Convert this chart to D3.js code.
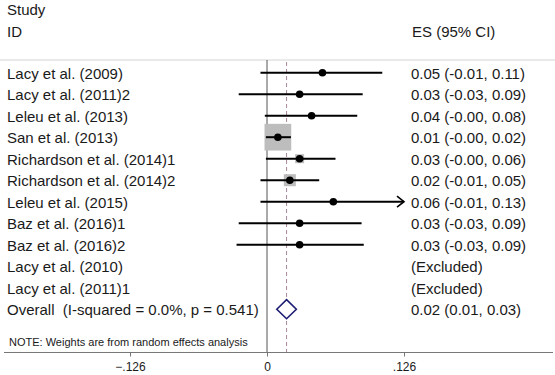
<!DOCTYPE html>
<html>
<head>
<meta charset="utf-8">
<script src="https://cdn.jsdelivr.net/npm/d3@7"></script>
<style>
  html, body { margin: 0; padding: 0; background: #fff; }
  svg { display: block; font-family: "Liberation Sans", Arial, sans-serif; }
  text { white-space: pre; }
</style>
</head>
<body>
<svg id="chart" width="555" height="375"></svg>
<script>
// ---- data ----
const studies = [
  "Lacy et al. (2009)",
  "Lacy et al. (2011)2",
  "Leleu et al. (2013)",
  "San et al. (2013)",
  "Richardson et al. (2014)1",
  "Richardson et al. (2014)2",
  "Leleu et al. (2015)",
  "Baz et al. (2016)1",
  "Baz et al. (2016)2",
  "Lacy et al. (2010)",
  "Lacy et al. (2011)1"
];
const es     = [0.051, 0.030, 0.041, 0.010, 0.030, 0.021, 0.061, 0.030, 0.030, null, null];
const ciLow  = [-0.006, -0.026, -0.002, -0.001, -0.001, -0.006, -0.006, -0.026, -0.028, null, null];
const ciHigh = [0.106, 0.088, 0.083, 0.022, 0.063, 0.048, 0.130, 0.087, 0.089, null, null];
const weights = [1.3, 1.2, 1.6, 70.6, 8.0, 14.3, 0.8, 1.1, 1.1, null, null];
const esLabels = [
  "0.05 (-0.01, 0.11)",
  "0.03 (-0.03, 0.09)",
  "0.04 (-0.00, 0.08)",
  "0.01 (-0.00, 0.02)",
  "0.03 (-0.00, 0.06)",
  "0.02 (-0.01, 0.05)",
  "0.06 (-0.01, 0.13)",
  "0.03 (-0.03, 0.09)",
  "0.03 (-0.03, 0.09)",
  "(Excluded)",
  "(Excluded)"
];
const overallLabel = "Overall  (I-squared = 0.0%, p = 0.541)";
const overall = { es: 0.018, lo: 0.009, hi: 0.027, text: "0.02 (0.01, 0.03)" };
const tickValues = [-0.126, 0, 0.126];
const noteText = "NOTE: Weights are from random effects analysis";

// ---- layout ----
const svg = d3.select("#chart");
const W = 555, H = 375;
const x = d3.scaleLinear().domain([-0.126, 0.126]).range([130, 404]);
const nRows = studies.length + 1;
const y = d3.scaleLinear().domain([0, nRows - 1]).range([72.7, 309.2]);
const axisY = 352.5;
const topLine = 60;
const textColor = "#1a1a1a";
const fs = 15;

// header
svg.append("text").attr("x", 7).attr("y", 15).attr("font-size", fs).attr("fill", textColor).text("Study");
svg.append("text").attr("x", 7).attr("y", 36.5).attr("font-size", fs).attr("fill", textColor).text("ID");
svg.append("text").attr("x", 412).attr("y", 36.5).attr("font-size", fs).attr("fill", textColor).text("ES (95% CI)");
svg.append("line").attr("x1", 0).attr("x2", W).attr("y1", topLine).attr("y2", topLine)
  .attr("stroke", "#d4d4d4").attr("stroke-width", 1);

// zero line
svg.append("line").attr("x1", x(0)).attr("x2", x(0)).attr("y1", topLine).attr("y2", axisY)
  .attr("stroke", "#555").attr("stroke-width", 1);
// overall dashed line
svg.append("line").attr("x1", x(overall.es)).attr("x2", x(overall.es)).attr("y1", topLine + 2).attr("y2", axisY)
  .attr("stroke", "#a8869a").attr("stroke-width", 1).attr("stroke-dasharray", "4,3");

// rows
const rows = studies.map((s, i) => ({ name: s, es: es[i], lo: ciLow[i], hi: ciHigh[i], w: weights[i], label: esLabels[i], i }));
const g = svg.append("g");
rows.forEach(r => {
  const cy = y(r.i);
  g.append("text").attr("x", 7).attr("y", cy + 6).attr("font-size", fs).attr("fill", textColor).text(r.name);
  g.append("text").attr("x", 411).attr("y", cy + 6).attr("font-size", fs).attr("fill", textColor).text(r.label);
  if (r.es == null) return;
  const side = 3.18 * Math.sqrt(r.w);
  g.append("rect").attr("x", x(r.es) - side / 2).attr("y", cy - side / 2)
    .attr("width", side).attr("height", side).attr("fill", "#bdbdbd");
  const xmax = x.domain()[1];
  const hiClipped = Math.min(r.hi, xmax);
  g.append("line").attr("x1", x(r.lo)).attr("x2", x(hiClipped)).attr("y1", cy).attr("y2", cy)
    .attr("stroke", "#000").attr("stroke-width", 2);
  if (r.hi > xmax) {
    const ax = x(xmax);
    g.append("path").attr("d", `M${ax - 7},${cy - 5.5}L${ax},${cy}L${ax - 7},${cy + 5.5}`)
      .attr("fill", "none").attr("stroke", "#000").attr("stroke-width", 1.6);
  }
  g.append("circle").attr("cx", x(r.es)).attr("cy", cy).attr("r", 3.8).attr("fill", "#000");
});

// overall
const oy = y(nRows - 1);
svg.append("text").attr("x", 7).attr("y", oy + 6).attr("font-size", fs).attr("fill", textColor).text(overallLabel);
svg.append("text").attr("x", 411).attr("y", oy + 6).attr("font-size", fs).attr("fill", textColor).text(overall.text);
svg.append("path")
  .attr("d", `M${x(overall.lo)},${oy}L${x(overall.es)},${oy - 9.5}L${x(overall.hi)},${oy}L${x(overall.es)},${oy + 9.5}Z`)
  .attr("fill", "#fff").attr("stroke", "#1c1c72").attr("stroke-width", 1.6);

// note
svg.append("text").attr("x", 9).attr("y", 346).attr("font-size", 11).attr("fill", textColor).text(noteText);

// axis
svg.append("line").attr("x1", 4).attr("x2", 553).attr("y1", axisY).attr("y2", axisY)
  .attr("stroke", "#777").attr("stroke-width", 1);
const axis = d3.axisBottom(x).tickValues(tickValues).tickSize(4).tickSizeOuter(0)
  .tickFormat(d => d === 0 ? "0" : d3.format(".3f")(d).replace("0.", "."));
const ag = svg.append("g").attr("transform", `translate(0,${axisY})`).call(axis);
ag.select(".domain").remove();
ag.selectAll(".tick line").attr("stroke", "#777");
ag.selectAll(".tick text").attr("font-size", 12).attr("fill", textColor)
  .attr("font-family", "'Liberation Sans', Arial, sans-serif").attr("dy", "0").attr("y", 18.5);
</script>
</body>
</html>
